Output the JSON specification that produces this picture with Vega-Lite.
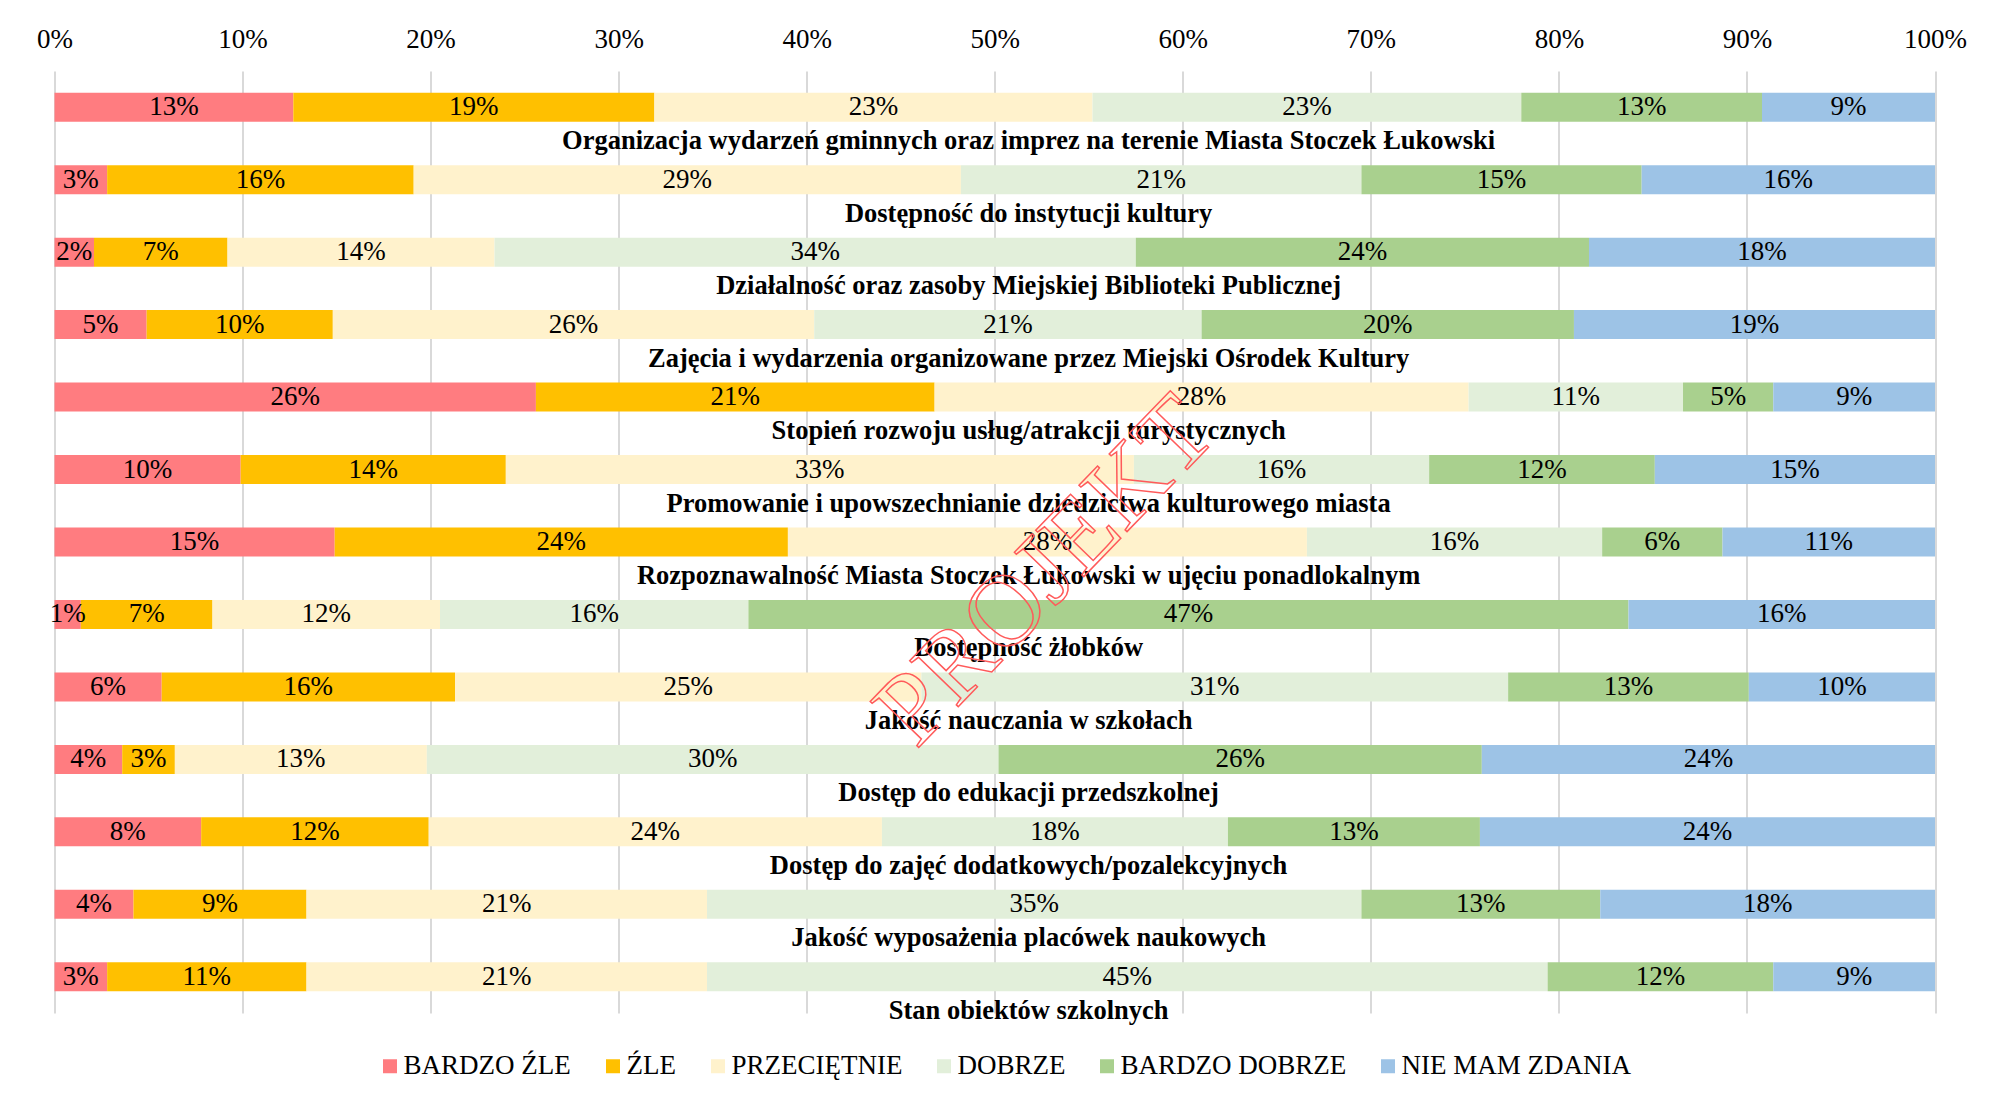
{
  "$schema": "https://vega.github.io/schema/vega-lite/v6.json",
  "width": 1880.5,
  "height": 942,
  "autosize": {"type": "none"},
  "padding": {"left": 54.5, "top": 71, "right": 56, "bottom": 86},
  "background": "white",
  "config": {"view": {"stroke": null}, "font": "Liberation Serif"},
  "datasets": {
    "resp": [
      {"c": "Organizacja wydarzeń gminnych oraz imprez na terenie Miasta Stoczek Łukowski", "r": "BARDZO ŹLE", "k": 1, "v": 0.127},
      {"c": "Organizacja wydarzeń gminnych oraz imprez na terenie Miasta Stoczek Łukowski", "r": "ŹLE", "k": 2, "v": 0.192},
      {"c": "Organizacja wydarzeń gminnych oraz imprez na terenie Miasta Stoczek Łukowski", "r": "PRZECIĘTNIE", "k": 3, "v": 0.233},
      {"c": "Organizacja wydarzeń gminnych oraz imprez na terenie Miasta Stoczek Łukowski", "r": "DOBRZE", "k": 4, "v": 0.228},
      {"c": "Organizacja wydarzeń gminnych oraz imprez na terenie Miasta Stoczek Łukowski", "r": "BARDZO DOBRZE", "k": 5, "v": 0.128},
      {"c": "Organizacja wydarzeń gminnych oraz imprez na terenie Miasta Stoczek Łukowski", "r": "NIE MAM ZDANIA", "k": 6, "v": 0.092},
      {"c": "Dostępność do instytucji kultury", "r": "BARDZO ŹLE", "k": 1, "v": 0.028},
      {"c": "Dostępność do instytucji kultury", "r": "ŹLE", "k": 2, "v": 0.163},
      {"c": "Dostępność do instytucji kultury", "r": "PRZECIĘTNIE", "k": 3, "v": 0.291},
      {"c": "Dostępność do instytucji kultury", "r": "DOBRZE", "k": 4, "v": 0.213},
      {"c": "Dostępność do instytucji kultury", "r": "BARDZO DOBRZE", "k": 5, "v": 0.149},
      {"c": "Dostępność do instytucji kultury", "r": "NIE MAM ZDANIA", "k": 6, "v": 0.156},
      {"c": "Działalność oraz zasoby Miejskiej Biblioteki Publicznej", "r": "BARDZO ŹLE", "k": 1, "v": 0.021},
      {"c": "Działalność oraz zasoby Miejskiej Biblioteki Publicznej", "r": "ŹLE", "k": 2, "v": 0.071},
      {"c": "Działalność oraz zasoby Miejskiej Biblioteki Publicznej", "r": "PRZECIĘTNIE", "k": 3, "v": 0.142},
      {"c": "Działalność oraz zasoby Miejskiej Biblioteki Publicznej", "r": "DOBRZE", "k": 4, "v": 0.341},
      {"c": "Działalność oraz zasoby Miejskiej Biblioteki Publicznej", "r": "BARDZO DOBRZE", "k": 5, "v": 0.241},
      {"c": "Działalność oraz zasoby Miejskiej Biblioteki Publicznej", "r": "NIE MAM ZDANIA", "k": 6, "v": 0.184},
      {"c": "Zajęcia i wydarzenia organizowane przez Miejski Ośrodek Kultury", "r": "BARDZO ŹLE", "k": 1, "v": 0.049},
      {"c": "Zajęcia i wydarzenia organizowane przez Miejski Ośrodek Kultury", "r": "ŹLE", "k": 2, "v": 0.099},
      {"c": "Zajęcia i wydarzenia organizowane przez Miejski Ośrodek Kultury", "r": "PRZECIĘTNIE", "k": 3, "v": 0.256},
      {"c": "Zajęcia i wydarzenia organizowane przez Miejski Ośrodek Kultury", "r": "DOBRZE", "k": 4, "v": 0.206},
      {"c": "Zajęcia i wydarzenia organizowane przez Miejski Ośrodek Kultury", "r": "BARDZO DOBRZE", "k": 5, "v": 0.198},
      {"c": "Zajęcia i wydarzenia organizowane przez Miejski Ośrodek Kultury", "r": "NIE MAM ZDANIA", "k": 6, "v": 0.192},
      {"c": "Stopień rozwoju usług/atrakcji turystycznych", "r": "BARDZO ŹLE", "k": 1, "v": 0.256},
      {"c": "Stopień rozwoju usług/atrakcji turystycznych", "r": "ŹLE", "k": 2, "v": 0.212},
      {"c": "Stopień rozwoju usług/atrakcji turystycznych", "r": "PRZECIĘTNIE", "k": 3, "v": 0.284},
      {"c": "Stopień rozwoju usług/atrakcji turystycznych", "r": "DOBRZE", "k": 4, "v": 0.114},
      {"c": "Stopień rozwoju usług/atrakcji turystycznych", "r": "BARDZO DOBRZE", "k": 5, "v": 0.048},
      {"c": "Stopień rozwoju usług/atrakcji turystycznych", "r": "NIE MAM ZDANIA", "k": 6, "v": 0.086},
      {"c": "Promowanie i upowszechnianie dziedzictwa kulturowego miasta", "r": "BARDZO ŹLE", "k": 1, "v": 0.099},
      {"c": "Promowanie i upowszechnianie dziedzictwa kulturowego miasta", "r": "ŹLE", "k": 2, "v": 0.141},
      {"c": "Promowanie i upowszechnianie dziedzictwa kulturowego miasta", "r": "PRZECIĘTNIE", "k": 3, "v": 0.334},
      {"c": "Promowanie i upowszechnianie dziedzictwa kulturowego miasta", "r": "DOBRZE", "k": 4, "v": 0.157},
      {"c": "Promowanie i upowszechnianie dziedzictwa kulturowego miasta", "r": "BARDZO DOBRZE", "k": 5, "v": 0.120},
      {"c": "Promowanie i upowszechnianie dziedzictwa kulturowego miasta", "r": "NIE MAM ZDANIA", "k": 6, "v": 0.149},
      {"c": "Rozpoznawalność Miasta Stoczek Łukowski w ujęciu ponadlokalnym", "r": "BARDZO ŹLE", "k": 1, "v": 0.149},
      {"c": "Rozpoznawalność Miasta Stoczek Łukowski w ujęciu ponadlokalnym", "r": "ŹLE", "k": 2, "v": 0.241},
      {"c": "Rozpoznawalność Miasta Stoczek Łukowski w ujęciu ponadlokalnym", "r": "PRZECIĘTNIE", "k": 3, "v": 0.276},
      {"c": "Rozpoznawalność Miasta Stoczek Łukowski w ujęciu ponadlokalnym", "r": "DOBRZE", "k": 4, "v": 0.157},
      {"c": "Rozpoznawalność Miasta Stoczek Łukowski w ujęciu ponadlokalnym", "r": "BARDZO DOBRZE", "k": 5, "v": 0.064},
      {"c": "Rozpoznawalność Miasta Stoczek Łukowski w ujęciu ponadlokalnym", "r": "NIE MAM ZDANIA", "k": 6, "v": 0.113},
      {"c": "Dostępność żłobków", "r": "BARDZO ŹLE", "k": 1, "v": 0.014},
      {"c": "Dostępność żłobków", "r": "ŹLE", "k": 2, "v": 0.070},
      {"c": "Dostępność żłobków", "r": "PRZECIĘTNIE", "k": 3, "v": 0.121},
      {"c": "Dostępność żłobków", "r": "DOBRZE", "k": 4, "v": 0.164},
      {"c": "Dostępność żłobków", "r": "BARDZO DOBRZE", "k": 5, "v": 0.468},
      {"c": "Dostępność żłobków", "r": "NIE MAM ZDANIA", "k": 6, "v": 0.163},
      {"c": "Jakość nauczania w szkołach", "r": "BARDZO ŹLE", "k": 1, "v": 0.057},
      {"c": "Jakość nauczania w szkołach", "r": "ŹLE", "k": 2, "v": 0.156},
      {"c": "Jakość nauczania w szkołach", "r": "PRZECIĘTNIE", "k": 3, "v": 0.248},
      {"c": "Jakość nauczania w szkołach", "r": "DOBRZE", "k": 4, "v": 0.312},
      {"c": "Jakość nauczania w szkołach", "r": "BARDZO DOBRZE", "k": 5, "v": 0.128},
      {"c": "Jakość nauczania w szkołach", "r": "NIE MAM ZDANIA", "k": 6, "v": 0.099},
      {"c": "Dostęp do edukacji przedszkolnej", "r": "BARDZO ŹLE", "k": 1, "v": 0.036},
      {"c": "Dostęp do edukacji przedszkolnej", "r": "ŹLE", "k": 2, "v": 0.028},
      {"c": "Dostęp do edukacji przedszkolnej", "r": "PRZECIĘTNIE", "k": 3, "v": 0.134},
      {"c": "Dostęp do edukacji przedszkolnej", "r": "DOBRZE", "k": 4, "v": 0.304},
      {"c": "Dostęp do edukacji przedszkolnej", "r": "BARDZO DOBRZE", "k": 5, "v": 0.257},
      {"c": "Dostęp do edukacji przedszkolnej", "r": "NIE MAM ZDANIA", "k": 6, "v": 0.241},
      {"c": "Dostęp do zajęć dodatkowych/pozalekcyjnych", "r": "BARDZO ŹLE", "k": 1, "v": 0.078},
      {"c": "Dostęp do zajęć dodatkowych/pozalekcyjnych", "r": "ŹLE", "k": 2, "v": 0.121},
      {"c": "Dostęp do zajęć dodatkowych/pozalekcyjnych", "r": "PRZECIĘTNIE", "k": 3, "v": 0.241},
      {"c": "Dostęp do zajęć dodatkowych/pozalekcyjnych", "r": "DOBRZE", "k": 4, "v": 0.184},
      {"c": "Dostęp do zajęć dodatkowych/pozalekcyjnych", "r": "BARDZO DOBRZE", "k": 5, "v": 0.134},
      {"c": "Dostęp do zajęć dodatkowych/pozalekcyjnych", "r": "NIE MAM ZDANIA", "k": 6, "v": 0.242},
      {"c": "Jakość wyposażenia placówek naukowych", "r": "BARDZO ŹLE", "k": 1, "v": 0.042},
      {"c": "Jakość wyposażenia placówek naukowych", "r": "ŹLE", "k": 2, "v": 0.092},
      {"c": "Jakość wyposażenia placówek naukowych", "r": "PRZECIĘTNIE", "k": 3, "v": 0.213},
      {"c": "Jakość wyposażenia placówek naukowych", "r": "DOBRZE", "k": 4, "v": 0.348},
      {"c": "Jakość wyposażenia placówek naukowych", "r": "BARDZO DOBRZE", "k": 5, "v": 0.127},
      {"c": "Jakość wyposażenia placówek naukowych", "r": "NIE MAM ZDANIA", "k": 6, "v": 0.178},
      {"c": "Stan obiektów szkolnych", "r": "BARDZO ŹLE", "k": 1, "v": 0.028},
      {"c": "Stan obiektów szkolnych", "r": "ŹLE", "k": 2, "v": 0.106},
      {"c": "Stan obiektów szkolnych", "r": "PRZECIĘTNIE", "k": 3, "v": 0.213},
      {"c": "Stan obiektów szkolnych", "r": "DOBRZE", "k": 4, "v": 0.447},
      {"c": "Stan obiektów szkolnych", "r": "BARDZO DOBRZE", "k": 5, "v": 0.120},
      {"c": "Stan obiektów szkolnych", "r": "NIE MAM ZDANIA", "k": 6, "v": 0.086}
    ],
    "cats": [
      {"c": "Organizacja wydarzeń gminnych oraz imprez na terenie Miasta Stoczek Łukowski"},
      {"c": "Dostępność do instytucji kultury"},
      {"c": "Działalność oraz zasoby Miejskiej Biblioteki Publicznej"},
      {"c": "Zajęcia i wydarzenia organizowane przez Miejski Ośrodek Kultury"},
      {"c": "Stopień rozwoju usług/atrakcji turystycznych"},
      {"c": "Promowanie i upowszechnianie dziedzictwa kulturowego miasta"},
      {"c": "Rozpoznawalność Miasta Stoczek Łukowski w ujęciu ponadlokalnym"},
      {"c": "Dostępność żłobków"},
      {"c": "Jakość nauczania w szkołach"},
      {"c": "Dostęp do edukacji przedszkolnej"},
      {"c": "Dostęp do zajęć dodatkowych/pozalekcyjnych"},
      {"c": "Jakość wyposażenia placówek naukowych"},
      {"c": "Stan obiektów szkolnych"}
    ],
    "mark": [{"w": "PROJEKT"}]
  },
  "layer": [
    {
      "data": {"name": "resp"},
      "mark": {"type": "bar"},
      "encoding": {
        "y": {
          "field": "c", "type": "nominal", "sort": null,
          "scale": {
            "domain": [
              "Organizacja wydarzeń gminnych oraz imprez na terenie Miasta Stoczek Łukowski",
              "Dostępność do instytucji kultury",
              "Działalność oraz zasoby Miejskiej Biblioteki Publicznej",
              "Zajęcia i wydarzenia organizowane przez Miejski Ośrodek Kultury",
              "Stopień rozwoju usług/atrakcji turystycznych",
              "Promowanie i upowszechnianie dziedzictwa kulturowego miasta",
              "Rozpoznawalność Miasta Stoczek Łukowski w ujęciu ponadlokalnym",
              "Dostępność żłobków",
              "Jakość nauczania w szkołach",
              "Dostęp do edukacji przedszkolnej",
              "Dostęp do zajęć dodatkowych/pozalekcyjnych",
              "Jakość wyposażenia placówek naukowych",
              "Stan obiektów szkolnych"
            ],
            "paddingInner": 0.6, "paddingOuter": 0.3
          },
          "axis": null
        },
        "x": {
          "field": "v", "type": "quantitative", "stack": "zero",
          "scale": {"domain": [0, 1], "nice": false},
          "axis": {
            "orient": "top", "format": ".0%",
            "values": [0, 0.1, 0.2, 0.3, 0.4, 0.5, 0.6, 0.7, 0.8, 0.9, 1],
            "grid": true, "gridColor": "#d9d9d9", "gridWidth": 2,
            "domain": false, "ticks": false, "tickSize": 0,
            "labelPadding": 18, "labelFont": "Liberation Serif", "labelFontSize": 27,
            "labelColor": "#000000", "labelFlush": false, "title": null
          }
        },
        "color": {
          "field": "r", "type": "nominal",
          "scale": {
            "domain": ["BARDZO ŹLE", "ŹLE", "PRZECIĘTNIE", "DOBRZE", "BARDZO DOBRZE", "NIE MAM ZDANIA"],
            "range": ["#FF7C80", "#FFC000", "#FFF2CC", "#E2EFDA", "#A9D08E", "#9DC3E6"]
          },
          "legend": {
            "orient": "none", "legendX": 322, "legendY": 981.5,
            "direction": "horizontal", "columns": 6, "title": null,
            "symbolType": "square", "symbolSize": 196, "symbolStrokeWidth": 0, "symbolOpacity": 1,
            "labelFont": "Liberation Serif", "labelFontSize": 27, "labelColor": "#000000",
            "labelLimit": 400, "columnPadding": 28, "labelOffset": 0, "padding": 0
          }
        },
        "order": {"field": "k", "type": "quantitative"}
      }
    },
    {
      "data": {"name": "resp"},
      "mark": {"type": "text", "baseline": "middle", "align": "center", "font": "Liberation Serif", "fontSize": 27, "color": "#000000"},
      "encoding": {
        "y": {"field": "c", "type": "nominal", "sort": null},
        "x": {"field": "v", "type": "quantitative", "stack": "zero", "bandPosition": 0.5},
        "text": {"field": "v", "type": "quantitative", "format": ".0%"},
        "order": {"field": "k", "type": "quantitative"}
      }
    },
    {
      "data": {"name": "cats"},
      "mark": {"type": "text", "baseline": "middle", "align": "center", "font": "Liberation Serif", "fontSize": 26.5, "fontWeight": "bold", "color": "#000000", "dy": 34},
      "encoding": {
        "y": {"field": "c", "type": "nominal", "sort": null},
        "x": {"datum": 0.518, "type": "quantitative"},
        "text": {"field": "c", "type": "nominal"}
      }
    },
    {
      "data": {"name": "mark"},
      "mark": {"type": "text", "baseline": "middle", "align": "center", "font": "Liberation Serif", "fontSize": 102, "angle": 314, "fillOpacity": 0, "stroke": "#ff5a5a", "strokeWidth": 1.5, "dx": -12, "dy": 30},
      "encoding": {
        "y": {"datum": "Rozpoznawalność Miasta Stoczek Łukowski w ujęciu ponadlokalnym", "type": "nominal"},
        "x": {"datum": 0.52, "type": "quantitative"},
        "text": {"field": "w", "type": "nominal"}
      }
    }
  ]
}
